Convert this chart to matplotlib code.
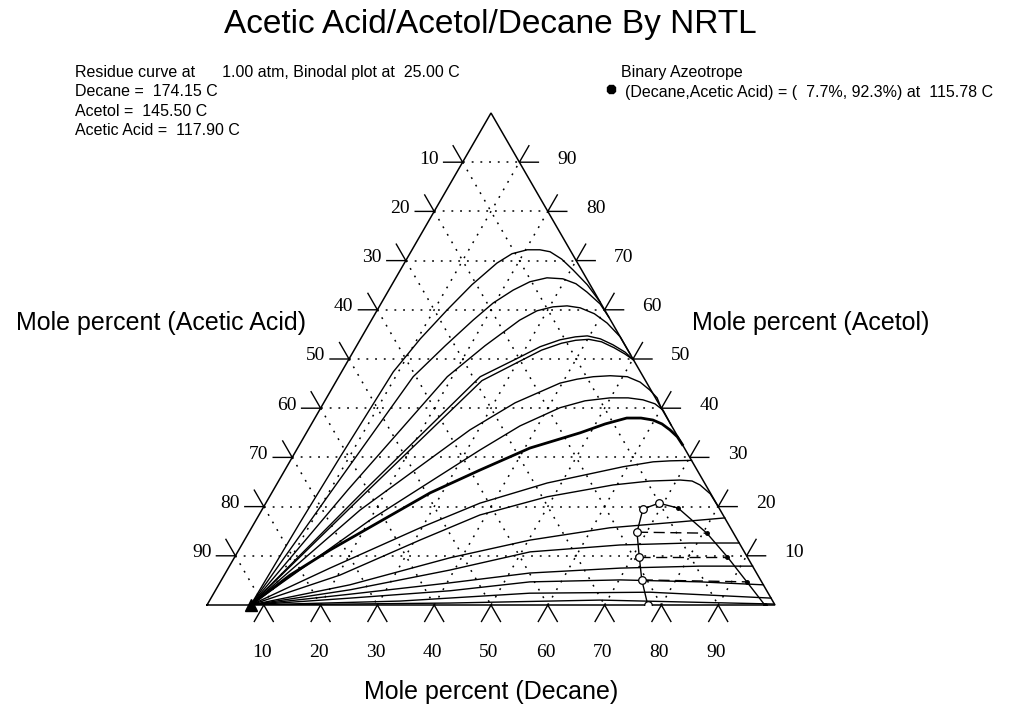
import numpy as np
import matplotlib
matplotlib.use("Agg")
import matplotlib.pyplot as plt

# 三角图: 左下 = Acetic Acid, 顶点 = Acetol, 右下 = Decane
# 所有点为 (decane %, acetol %)
title = "Acetic Acid/Acetol/Decane By NRTL"
tick_values = [10, 20, 30, 40, 50, 60, 70, 80, 90]
info_lines = ["Residue curve at      1.00 atm, Binodal plot at  25.00 C",
              "Decane =  174.15 C",
              "Acetol =  145.50 C",
              "Acetic Acid =  117.90 C"]
azeo_title = "Binary Azeotrope"
azeo_label = "(Decane,Acetic Acid) = (  7.7%, 92.3%) at  115.78 C"
azeotrope = (7.7, 0.0)

# 剩余曲线 (residue curves)
curve_1 = [(7.7, 0), (8.0, 16.7), (8.4, 30.1), (9.1, 47.4), (10.5, 54.1), (12.3, 60.0),
           (14.1, 65.1), (16.3, 69.5), (18.0, 71.4), (20.3, 72.2), (22.5, 72.2), (24.5, 71.8),
           (27.3, 70.3), (30.4, 68.1), (34.4, 65.1), (38.4, 61.6)]
curve_2 = [(7.7, 0), (10.3, 22.8), (13.1, 46.4), (15.6, 52.7), (17.9, 57.9), (19.7, 61.4),
           (21.9, 64.0), (24.0, 65.7), (26.6, 66.5), (29.5, 66.3), (32.3, 65.3), (35.1, 63.6),
           (38.6, 61.2), (41.5, 58.5)]
curve_3 = [(7.7, 0), (13.1, 23.4), (19.1, 46.4), (22.6, 52.7), (26.1, 57.9), (28.2, 59.8),
           (30.6, 60.6), (33.0, 60.8), (35.5, 60.4), (38.6, 59.2), (41.8, 57.3), (45.5, 54.5),
           (49.1, 50.9)]
curve_4 = [(7.7, 0), (16.1, 23.4), (24.9, 46.4), (29.9, 50.4), (32.4, 52.5), (35.2, 53.9),
           (37.6, 54.5), (39.6, 54.7), (42.2, 54.1), (45.0, 52.9), (47.9, 51.4), (50.2, 49.8)]
curve_5 = [(7.7, 0), (16.6, 23.0), (25.6, 45.6), (30.6, 49.8), (33.0, 51.8), (35.8, 53.2),
           (38.0, 53.8), (40.2, 54.0), (42.7, 53.5), (45.5, 52.3), (48.1, 51.0), (50.2, 49.8)]
curve_6 = [(7.7, 0), (17.3, 19.3), (28.5, 35.6), (33.7, 41.1), (39.6, 45.1), (42.2, 45.9),
           (44.8, 46.4), (47.7, 46.6), (50.8, 46.4), (53.6, 45.3), (56.1, 43.7), (58.2, 42.1),
           (59.8, 40.2)]
curve_7 = [(7.7, 0), (20.1, 17.3), (32.3, 31.5), (36.9, 36.4), (42.1, 40.1), (45.8, 41.5),
           (49.9, 42.1), (53.1, 42.1), (55.9, 41.7), (58.4, 40.9), (60.5, 39.6), (63.4, 36.6)]
curve_8 = [(7.7, 0), (11.6, 6.1), (16.1, 11.2), (27.9, 22.8), (34.3, 27.4), (40.9, 31.9),
           (48.2, 35.0), (51.7, 36.8), (54.9, 38.0), (57.4, 38.0), (59.7, 37.6), (61.7, 36.8),
           (63.7, 35.6), (65.7, 34.2), (67.4, 32.6)]
curve_9 = [(7.7, 0), (17.9, 7.5), (29.7, 15.7), (37.7, 20.7), (47.5, 24.8), (59.2, 28.1),
           (64.0, 29.1), (66.9, 29.3), (70.6, 29.4)]
curve_10 = [(7.7, 0), (20.4, 6.1), (30.9, 13.2), (38.9, 18.3), (48.9, 22.0), (59.3, 24.4),
            (65.4, 25.2), (70.6, 25.4), (72.8, 25.2), (74.6, 24.4), (77.3, 22.6), (80.0, 20.0)]
curve_11 = [(7.7, 0), (23.1, 4.1), (38.0, 9.6), (50.3, 13.2), (63.1, 15.7), (74.8, 16.9),
            (82.3, 17.7)]
curve_12 = [(7.7, 0), (23.7, 3.1), (39.2, 7.1), (51.5, 10.8), (66.6, 12.2), (78.7, 12.6),
            (87.4, 12.6)]
curve_13 = [(7.7, 0), (24.1, 2.2), (40.5, 4.5), (53.6, 6.5), (69.0, 7.5), (82.8, 7.9),
            (92.1, 7.9)]
curve_14 = [(7.7, 0), (24.5, 1.4), (41.4, 2.9), (54.5, 4.7), (70.2, 5.1), (84.5, 4.7),
            (95.9, 4.1)]
curve_15 = [(7.7, 0), (33.6, 0.8), (55.6, 2.4), (76.7, 2.6), (98.6, 1.4)]
curve_16 = [(7.7, 0), (42.6, 0.4), (68.7, 1.0), (99.6, 0.2)]
residue_curves = [curve_1, curve_2, curve_3, curve_4, curve_5, curve_6, curve_7, curve_8,
                  curve_9, curve_10, curve_11, curve_12, curve_13, curve_14, curve_15, curve_16]
thick_curve = curve_8

# 双节线 (binodal, 25 C)
binodal_left = [(77.6, 0), (74.0, 5.1), (71.2, 9.8), (68.3, 14.8), (67.0, 19.5), (69.2, 20.7)]
binodal_right = [(69.2, 20.7), (73.1, 19.7), (80.7, 14.6), (86.7, 9.8), (92.7, 4.7), (98.2, 0)]
tie_left = [(68.3, 14.8), (71.2, 9.8), (74.0, 5.1)]
tie_right = [(80.7, 14.6), (86.7, 9.8), (92.7, 4.7)]

H = np.sqrt(3) / 2
PX = 1 / 568.0   # 三角形边长 568 像素


def tern(pts):
    pts = np.asarray(pts, dtype=float) / 100.0
    d, a = pts[:, 0], pts[:, 1]
    return d + a / 2, a * H


fig = plt.figure(figsize=(10.35, 7.09), dpi=100)
fig.patch.set_facecolor("white")
ax = fig.add_axes([207 / 1035, 104 / 709, 568 / 1035, 492 / 709])
ax.set_xlim(0, 1)
ax.set_ylim(0, H)
ax.axis("off")

sans = "Liberation Sans"
serif = "Liberation Serif"

# 边框
ex, ey = tern([(0, 0), (100, 0), (0, 100), (0, 0)])
ax.plot(ex, ey, color="black", lw=1.1, solid_joinstyle="miter", clip_on=False)

# 网格 + 刻度
L = 19 * PX
c60, s60 = 0.5, H
for v in tick_values:
    for seg in ([(0, v), (100 - v, v)], [(v, 0), (v, 100 - v)], [(0, 100 - v), (100 - v, 0)]):
        gx, gy = tern(seg)
        ax.plot(gx, gy, color="black", lw=1.1, ls=(0, (1.2, 4.5)))
    # 底边 Decane
    bx, by = tern([(v, 0)])
    bx, by = bx[0], by[0]
    ax.plot([bx - L * c60, bx, bx + L * c60], [by - L * s60, by, by - L * s60],
            color="black", lw=1.0, clip_on=False)
    ax.text(bx - 2 * PX, by - 47 * PX, str(v), ha="center", va="center",
            family=serif, fontsize=14)
    # 左边 Acetic Acid
    lx, ly = tern([(0, 100 - v)])
    lx, ly = lx[0], ly[0]
    ax.plot([lx - L, lx, lx - L * c60], [ly, ly, ly + L * s60],
            color="black", lw=1.0, clip_on=False)
    ax.text(lx - 24 * PX, ly + 3 * PX, str(v), ha="right", va="center",
            family=serif, fontsize=14)
    # 右边 Acetol
    rx, ry = tern([(100 - v, v)])
    rx, ry = rx[0], ry[0]
    ax.plot([rx + L, rx, rx + L * c60], [ry, ry, ry + L * s60],
            color="black", lw=1.0, clip_on=False)
    ax.text(rx + 38 * PX, ry + 3 * PX, str(v), ha="left", va="center",
            family=serif, fontsize=14)

# 剩余曲线
for c in residue_curves:
    cx, cy = tern(c)
    ax.plot(cx, cy, color="black", lw=2.0 if c is thick_curve else 1.0,
            solid_joinstyle="round")

# 双节线与连接线
bx, by = tern(binodal_left + binodal_right[1:])
ax.plot(bx, by, color="black", lw=1.0)
for p, q in zip(tie_left, tie_right):
    tx, ty = tern([p, q])
    ax.plot(tx, ty, color="black", lw=1.0, ls=(0, (8, 4)))
lx, ly = tern(binodal_left)
ax.plot(lx, ly, ls="none", marker="o", ms=5.5, mfc="white", mec="black", mew=0.9)
rx, ry = tern(binodal_right[1:])
ax.plot(rx, ry, ls="none", marker="o", ms=2.5, color="black")

# 共沸点
axx, ayy = tern([azeotrope])
ax.plot(axx, ayy, marker="^", ms=9, color="black", clip_on=False)


# 文字
def fpos(x, y):
    return x / 1035, 1 - y / 709


fig.text(*fpos(490, 25), title, ha="center", va="center", family=sans, fontsize=24)
for i, line in enumerate(info_lines):
    fig.text(*fpos(75, 72 + 19.5 * i), line, ha="left", va="center", family=sans, fontsize=11.5)
fig.text(*fpos(621, 72), azeo_title, ha="left", va="center", family=sans, fontsize=11.5)
fig.text(*fpos(625, 92), azeo_label, ha="left", va="center", family=sans, fontsize=11.5)
fig.lines.append(plt.Line2D([611 / 1035], [1 - 89 / 709], marker="8", ms=7, color="black",
                            transform=fig.transFigure))
fig.text(*fpos(161, 323), "Mole percent (Acetic Acid)", ha="center", va="center",
         family=sans, fontsize=18)
fig.text(*fpos(811, 323), "Mole percent (Acetol)", ha="center", va="center",
         family=sans, fontsize=18)
fig.text(*fpos(491, 692), "Mole percent (Decane)", ha="center", va="center",
         family=sans, fontsize=18)

fig.savefig("out.png", dpi=100, facecolor="white")
